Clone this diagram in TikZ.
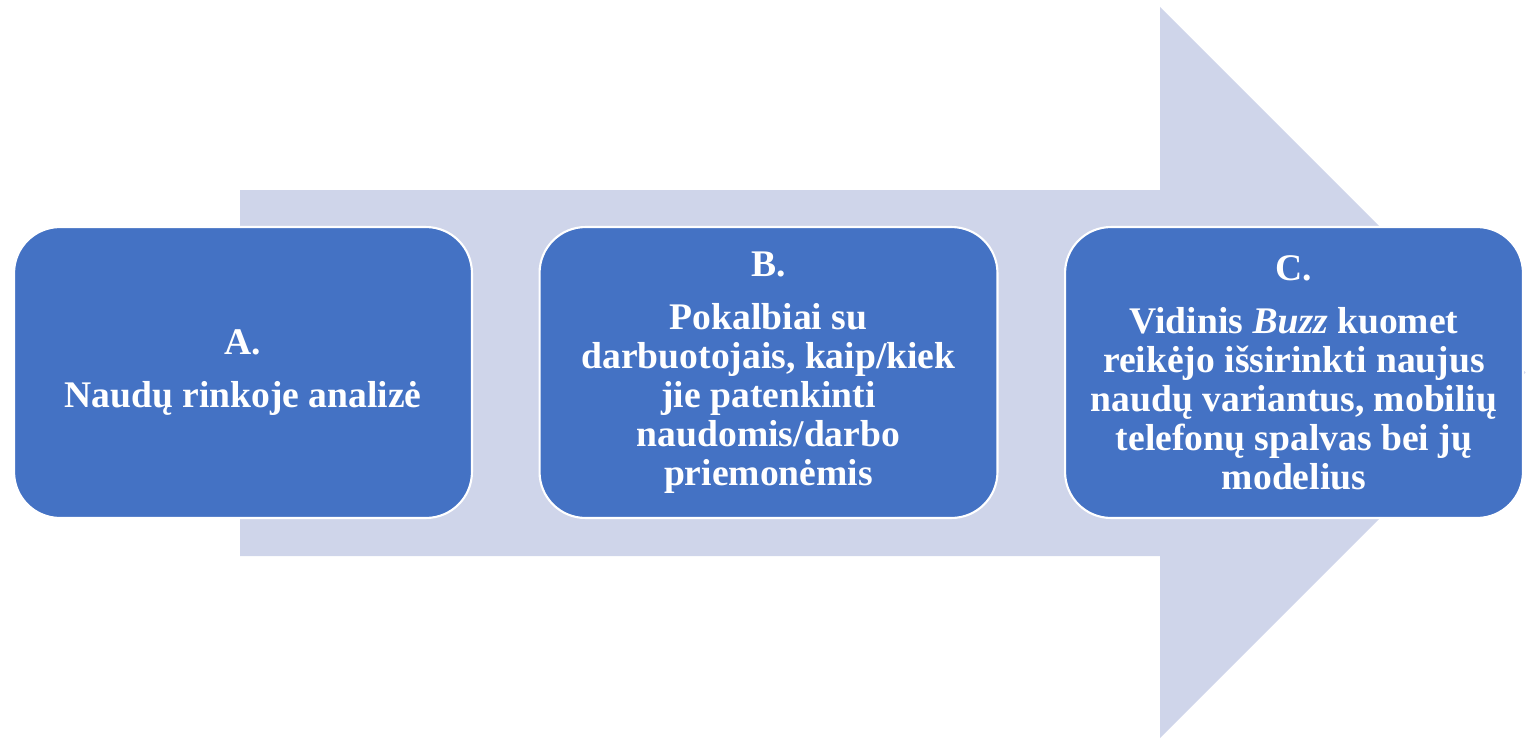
\documentclass[tikz,border=0pt]{standalone}
\usepackage{fontspec}
\setmainfont{Liberation Serif}
\usepackage{tikz}
\usetikzlibrary{positioning,calc}

\definecolor{boxblue}{HTML}{4472C4}
\definecolor{arrowgray}{HTML}{CFD5EA}

\tikzset{
  stagebox/.style={rectangle,rounded corners=0.92cm,minimum width=9.16cm,
    minimum height=5.82cm,fill=boxblue,draw=white,line width=1.2pt,
    text=white,align=center,font=\fontsize{21.4}{22.1}\selectfont\bfseries}
}

\begin{document}
\begin{tikzpicture}[x=0.02cm,y=-0.02cm]
      \useasboundingbox (0,0) rectangle (1537,740);
      \coordinate (a) at (243,372.5);
      \coordinate (b) at (768.5,372.5);
      \coordinate (c) at (1294,372.5);

      % big arrow behind the boxes
      \fill[arrowgray] (240,190) -- (1160,190) -- (1160,7) -- (1525.5,372.5)
        -- (1160,738) -- (1160,556) -- (240,556) -- cycle;

      \node[stagebox] (an) at (a) {A.\\[0.29cm]Naudų rinkoje analizė};
      \node[stagebox] (bn) at (b) {B.\\[0.29cm]Pokalbiai su\\darbuotojais, kaip/kiek\\
        jie patenkinti\\naudomis/darbo\\priemonėmis};
      \node[stagebox] (cn) at (c) {C.\\[0.29cm]Vidinis \textit{Buzz} kuomet\\
        reikėjo išsirinkti naujus\\naudų variantus, mobilių\\
        telefonų spalvas bei jų\\modelius};

    \end{tikzpicture}
\end{document}
